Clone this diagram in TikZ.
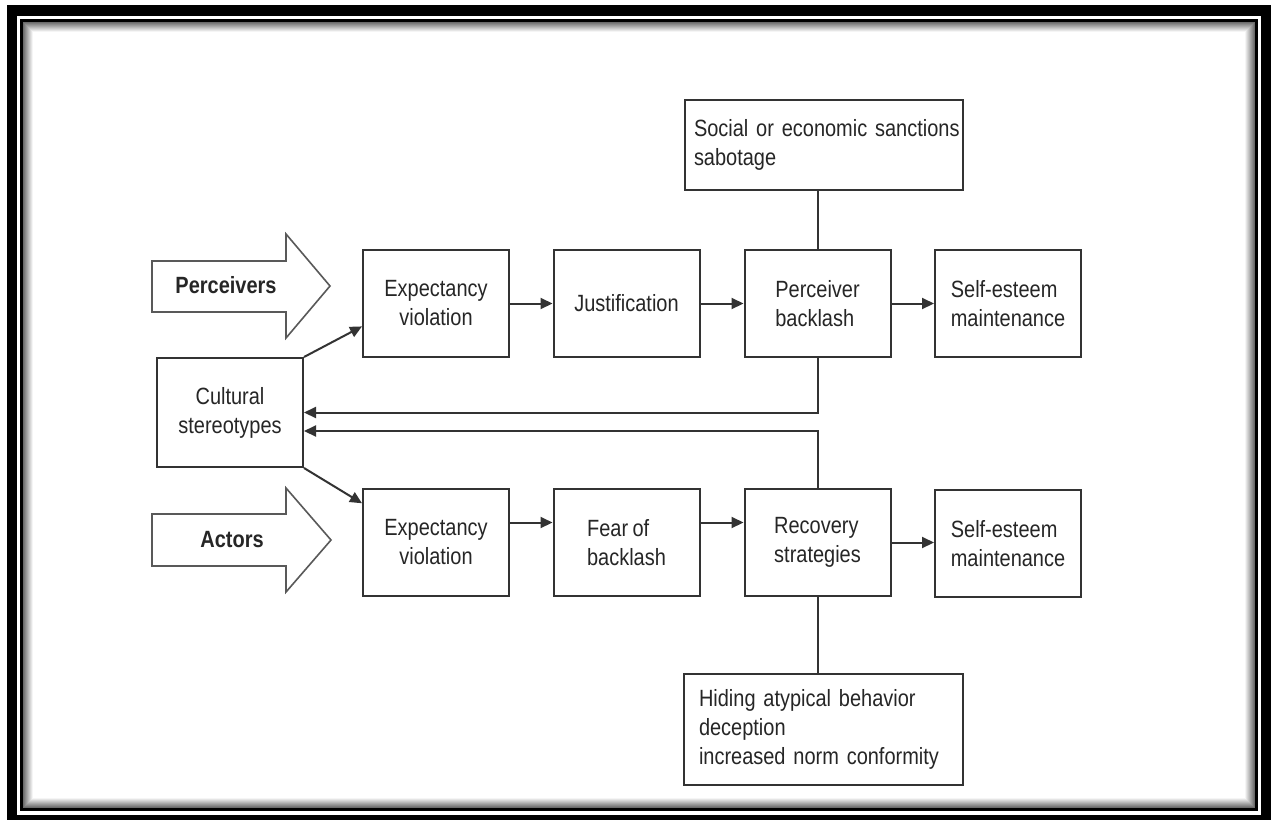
\documentclass[tikz,border=0pt]{standalone}
\usepackage{fontspec}
\setmainfont{Liberation Sans}[FakeStretch=0.85,WordSpace=0.8]
\usetikzlibrary{arrows.meta,calc}
\definecolor{ink}{HTML}{262626}
\definecolor{edge}{HTML}{333333}
\begin{document}
\begin{tikzpicture}[x=1pt,y=-1pt,
  txt/.style={text=ink,font=\fontsize{23.5}{29}\selectfont},
  box/.style={txt,draw=edge,line width=2pt,minimum width=146pt,minimum height=107pt,inner sep=0pt},
  wide/.style={txt,draw=edge,line width=2pt,inner ysep=0pt,align=left},
  conn/.style={draw=edge,line width=2pt},
  arr/.style={conn,-{Triangle[length=12pt,width=11pt]}},
  bigarrow/.style={draw=black!65,line width=1.6pt,fill=white},
  lab/.style={txt,font=\fontsize{23.5}{29}\selectfont\bfseries}]
\useasboundingbox (0,0) rectangle (1271,820);
% frame
\fill[black] (7,5) rectangle (1271,820);
\fill[white] (17,16) rectangle (1261,815);
\fill[black] (20,19) rectangle (1258,811);
\foreach \i in {0,...,9}{
  \pgfmathtruncatemacro{\g}{58-6*\i}
  \fill[black!\g] (23+\i,22+\i) rectangle (1255-\i,808-\i);
}
\fill[white] (33,32) rectangle (1245,798);

% side arrows
\draw[bigarrow] (152,261) -- (286,261) -- (286,234) -- (330,286) -- (286,338) -- (286,312) -- (152,312) -- cycle;
\node[lab] (perc) at (226,285) {Perceivers};
\draw[bigarrow] (152,514) -- (286,514) -- (286,488) -- (331,540) -- (286,592) -- (286,566) -- (152,566) -- cycle;
\node[lab] (act) at (232,540) {Actors};

% boxes
\node[box,align=center] (ev1) at (436,303.5) {Expectancy\\violation};
\node[box,align=center] (just) at (626.5,303.5) {Justification};
\node[box,align=left] (pb) at (817.5,303.5) {Perceiver\\backlash};
\node[box,align=left] (se1) at (1008,303.5) {Self-esteem\\maintenance};

\node[box,align=center,minimum height=109pt] (cult) at (230,412.5) {Cultural\\stereotypes};

\node[box,align=center] (ev2) at (436,542.5) {Expectancy\\violation};
\node[box,align=left] (fear) at (626.5,542.5) {Fear of\\backlash};
\node[box,align=left] (rec) at (817.5,542.5) {Recovery\\strategies};
\node[box,align=left] (se2) at (1008,543.5) {Self-esteem\\maintenance};

\node[wide,text width=260pt,inner xsep=9pt,minimum height=90pt] (soc) at (824,145) {\mbox{Social or economic sanctions}\\\mbox{sabotage}};
\node[wide,text width=249pt,inner xsep=15pt,minimum height=111pt] (hid) at (823.5,729.5) {\mbox{Hiding atypical behavior}\\\mbox{deception}\\\mbox{increased norm conformity}};

% connectors
\draw[arr] (ev1.east) -- (just.west);
\draw[arr] (just.east) -- (pb.west);
\draw[arr] (pb.east) -- (se1.west);
\draw[arr] ([yshift=20pt]ev2.east) -- ([yshift=20pt]fear.west);
\draw[arr] ([yshift=20pt]fear.east) -- ([yshift=20pt]rec.west);
\draw[arr] (rec.east) -- (se2.west |- rec.east);

\draw[conn] (pb.north) -- (pb.north |- soc.south);
\draw[conn] (rec.south) -- (rec.south |- hid.north);

\draw[arr] (cult.north east) -- ($(ev1.south west)!0.29!(ev1.north west)$);
\draw[arr] (cult.south east) -- ($(ev2.north west)!0.14!(ev2.south west)$);

\coordinate (fb2) at ($(cult.east)+(0,18.5)$);
\draw[arr] (pb.south) |- (cult.east);
\draw[arr] (rec.north) |- (fb2);
\end{tikzpicture}
\end{document}
